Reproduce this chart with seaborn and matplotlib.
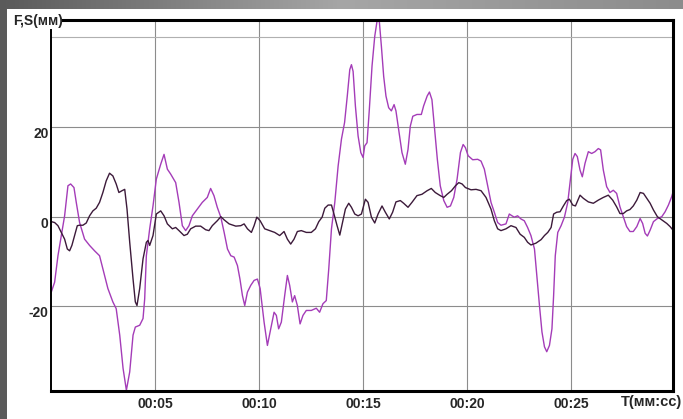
import numpy as np
import matplotlib
matplotlib.use("Agg")
import matplotlib.pyplot as plt
import seaborn as sns
from matplotlib.colors import LinearSegmentedColormap
from matplotlib.patches import Rectangle

# ---- data (time in s, value in mm) ----
f_time = [0, 0.16, 0.32, 0.48, 0.64, 0.8, 0.93, 1.09, 1.2, 1.36, 1.6, 1.84, 2.08, 2.32, 2.48,
          2.72, 2.96, 3.12, 3.29, 3.45, 3.61, 3.77, 3.93, 4.04, 4.25, 4.41, 4.49, 4.57, 4.73, 4.89,
          5.05, 5.26, 5.42, 5.58, 5.74, 5.98, 6.14, 6.30, 6.46, 6.62, 6.78, 7.02, 7.26, 7.5, 7.66,
          7.82, 7.98, 8.15, 8.31, 8.47, 8.63, 8.79, 8.95, 9.07, 9.19, 9.3, 9.43, 9.59, 9.75, 9.91,
          10.04, 10.23, 10.39, 10.55, 10.71, 10.82, 10.93, 11.06, 11.22, 11.35, 11.46, 11.59, 11.7,
          11.83, 11.96, 12.1, 12.26, 12.5, 12.74, 12.9, 13.06, 13.22, 13.34, 13.47, 13.63, 13.79,
          13.95, 14.1, 14.23, 14.35, 14.43, 14.51, 14.62, 14.75, 14.88,
          14.99, 15.07, 15.18, 15.29, 15.42, 15.55, 15.66, 15.77, 15.87, 15.98, 16.09, 16.22, 16.35,
          16.48, 16.57, 16.7, 16.86, 17.02, 17.15, 17.26, 17.38, 17.58, 17.79, 17.9, 18.07, 18.18,
          18.3, 18.43, 18.56, 18.7, 18.87, 19.03, 19.19, 19.35, 19.51, 19.67, 19.8, 19.91,
          20.04, 20.26, 20.5, 20.66, 20.82, 20.98, 21.14, 21.3, 21.46, 21.62, 21.86, 22.02, 22.15,
          22.26, 22.42, 22.58, 22.74, 22.9, 23.06, 23.23, 23.34, 23.47, 23.59, 23.71, 23.82, 23.95,
          24.07, 24.15, 24.23, 24.35, 24.51, 24.67, 24.83,
          24.94, 25.07, 25.18, 25.29, 25.42, 25.53, 25.66, 25.82, 25.98, 26.14, 26.3, 26.41, 26.54,
          26.7, 26.86, 27.02, 27.18, 27.34, 27.5, 27.66, 27.82, 27.98, 28.15, 28.31, 28.43, 28.55,
          28.66, 28.79, 28.95, 29.14, 29.35, 29.51, 29.67, 29.83, 29.94]
f_mm = [-16.8, -14.6, -8.7, -4.2, 0.2, 6.9, 7.3, 6.5, 3.2, -1.3, -5, -6.4, -7.6, -8.7, -11.6,
        -16, -19, -20.5, -26.4, -33.8, -38.7, -34.6, -26.4, -24.6, -24.2, -22.7, -18.3, -8.7, -2.7, 2.4,
        8.4, 11.7, 13.9, 10.6, 9.5, 7.6, 3.2, -2.0, -3.1, -2.0, 0.2, 1.7, 3.2, 4.3, 6.3,
        4.7, 2.1, -0.1, -3.5, -7.2, -8.7, -9, -10.9, -13.9, -17.6, -19.8, -16.8, -15.3, -14.2, -13.9,
        -16, -23.5, -28.7, -25, -21.3, -22, -25, -23.5, -17.6, -13.1, -15.3, -19, -17.6,
        -19.8, -23.9, -22, -20.9, -20.9, -20.4, -21.3, -19.4, -18.7, -11.6, -2.7, 3.2, 11.3,
        17.3, 21, 26.9, 32.8, 33.9, 32.4, 24.7, 18, 14.3,
        13.2, 15.8, 16.5, 23.9, 33.6, 40.2, 43.6, 43.6, 38, 31.3, 26.9, 24.3, 23.6,
        25, 23.6, 19.5, 14.3, 11.7, 15, 20.2, 22.4, 22.8, 22.8, 24.7, 26.9, 27.8,
        26.1, 19.5, 12.8, 6.9, 3.6, 2.1, 2.4, 4.3, 8.4, 14.3, 16.1, 15.4,
        13.6, 12.7, 12.8, 12.4, 10.6, 6.9, 3.2, 1, -1.3, -1.9, -1.6, 0.6, 0.2,
        -0.1, 0.2, -0.5, -0.9, -2.4, -4.2, -7.2, -13.1, -19.8, -25.7, -29, -30.1, -28.7,
        -25, -17.6, -8.7, -3.5, -2, -0.1, 3.2,
        7.6, 12.8, 14.1, 13.4, 10.4, 8.9, 11.9, 14.5, 14.1, 14.5, 15.2, 14.9, 10.4,
        6.7, 5.4, 5.9, 5.2, 2.2, 0, -2.2, -3.3, -3.3, -2.2, -0.4, -1.5, -3.7,
        -4.3, -3, -1.1, -0.4, 0, 1.1, 2.6, 4.5, 6.3]

s_time = [0, 0.16, 0.32, 0.48, 0.64, 0.77, 0.88, 0.99, 1.12, 1.25, 1.36, 1.52, 1.68, 1.84, 2.0,
          2.16, 2.32, 2.48, 2.64, 2.8, 2.96, 3.12, 3.25, 3.4, 3.53, 3.64, 3.77, 3.93, 4.04, 4.12,
          4.25, 4.41, 4.57, 4.65, 4.73, 4.89,
          5.05, 5.26, 5.42, 5.58, 5.82, 5.98, 6.14, 6.38, 6.54, 6.7, 6.94, 7.18, 7.42, 7.58, 7.74,
          7.98, 8.15, 8.31, 8.55, 8.87, 9.11, 9.27, 9.43, 9.62, 9.75, 9.88,
          10.04, 10.26, 10.5, 10.74, 10.98, 11.19, 11.35, 11.51, 11.67, 11.83, 12.02, 12.26, 12.5,
          12.7, 12.86, 13.02, 13.15, 13.31, 13.47, 13.59, 13.74, 13.87, 14.0, 14.14, 14.3, 14.43,
          14.59, 14.75, 14.91,
          15.1, 15.23, 15.39, 15.55, 15.71, 15.9, 16.06, 16.25, 16.41, 16.57, 16.78, 16.94, 17.15,
          17.34, 17.58, 17.82, 18.07, 18.27, 18.46, 18.7, 18.87, 19.03, 19.24, 19.43, 19.59, 19.75,
          19.91,
          20.18, 20.42, 20.66, 20.9, 21.14, 21.3, 21.46, 21.62, 21.86, 22.1, 22.34, 22.54, 22.74,
          22.9, 23.06, 23.3, 23.55, 23.71, 23.87, 24.03, 24.15, 24.3, 24.46, 24.62, 24.78, 24.91,
          25.07, 25.2, 25.42, 25.58, 25.82, 26.06, 26.3, 26.54, 26.78, 26.99, 27.18, 27.34, 27.5,
          27.66, 27.82, 27.98, 28.15, 28.31, 28.47, 28.63, 28.79, 28.95, 29.14, 29.35, 29.59, 29.75,
          29.91]
s_mm = [-1.1, -1.3, -2, -3.5, -5, -7.2, -7.6, -6.4, -4.2, -2, -1.9, -1.9, -1.4, 0.2, 1.3,
        1.9, 3.2, 5.4, 8, 9.7, 9.1, 7.3, 5.4, 5.8, 6.1, 1.7, -5.7, -13.9, -19, -19.8,
        -16, -9.4, -5.7, -5.3, -6.4, -4.2,
        0.6, 1.3, 0.2, -1.6, -2.7, -2.4, -3.1, -4.2, -3.9, -2.7, -2.1, -2.1, -2.9, -3.1, -2,
        -0.9, 0, -0.7, -1.6, -2.1, -2, -1.6, -2.7, -3.5, -2, -0.1,
        -0.9, -2.7, -3.1, -3.5, -4.2, -3.3, -5, -6.1, -5, -3.3, -3.1, -3.5, -3.5,
        -2.7, -1.1, -0.1, 1.9, 2.6, 2.6, 0.6, -2, -4.1, -1.3, 1.7, 3, 2.1,
        0.6, 0.2, 0.6,
        3.9, 3.2, -0.1, -1.4, 0.6, 2.4, 1, -0.5, 1, 3.3, 3.6, 3, 2.1,
        3.2, 4.7, 5, 5.8, 6.3, 5.4, 4.7, 4.3, 5, 5.8, 6.9, 7.6, 7.3,
        6.5,
        6, 6.1, 5.8, 4.3, 1.7, -0.9, -2.7, -3.1, -2.7, -2, -2.4, -3.9, -4.6,
        -5.7, -6.3, -5.9, -5.1, -4.2, -3.5, -2.4, 0.6, 1, 1.1, 2.4, 3.6, 3.9,
        2.6, 2.4, 4.8, 4.1, 3.3, 3, 3.7, 4.3, 4.8, 3.7, 2.2, 0.7, 0.7,
        1.3, 1.6, 2.4, 3.7, 5.4, 5.2, 4.1, 3, 1.5, 0, -0.7, -1.5, -2.2,
        -3.1]

x_ticks = [5, 10, 15, 20, 25]
x_labels = ["00:05", "00:10", "00:15", "00:20", "00:25"]
y_ticks = [-20, 0, 20, 40]
y_labels = ["-20", "0", "20", ""]

assert len(f_time) == len(f_mm) and len(s_time) == len(s_mm)

sns.set_style("white")
plt.rcParams['font.family'] = ['Liberation Sans', 'DejaVu Sans']

W, H = 683, 419
fig = plt.figure(figsize=(W / 100, H / 100), dpi=100)

# gray frame behind the white panel
bg = fig.add_axes([0, 0, 1, 1])
cmap = LinearSegmentedColormap.from_list("frame", ["#5a5a5a", "#a6a6a6", "#8c8c8c"])
bg.imshow(np.linspace(0, 1, 256)[None, :], aspect="auto", cmap=cmap, extent=[0, 1, 0, 1])
bg.add_patch(Rectangle((7 / W, 0), 1, (H - 9) / H, color="white", lw=0))
bg.set_xlim(0, 1)
bg.set_ylim(0, 1)
bg.set_axis_off()

ax = fig.add_axes([51.3 / W, 28 / H, (673 - 51.3) / W, 371 / H])
ax.set_facecolor("white")

sns.lineplot(x=f_time, y=f_mm, ax=ax, color="#a43cb8", lw=1.0, estimator=None, sort=False)
sns.lineplot(x=s_time, y=s_mm, ax=ax, color="#3c1a3a", lw=1.0, estimator=None, sort=False)

ax.set_xlim(0, 29.89)
ax.set_ylim(-38.86, 43.86)
ax.set_xticks(x_ticks)
ax.set_xticklabels(x_labels, fontweight="bold", fontsize=10)
ax.set_yticks(y_ticks)
ax.set_yticklabels(y_labels, fontweight="bold", fontsize=10)
for lab in ax.get_yticklabels():
    lab.set_va("top")
ax.tick_params(length=0)
ax.tick_params(axis="x", pad=4)
ax.tick_params(axis="y", pad=2)

ax.grid(True, color="#8c8c8c", lw=0.8)
ax.get_ygridlines()[3].set_color("#b0b0b0")
ax.set_axisbelow(True)

for side in ["top", "bottom", "right"]:
    ax.spines[side].set_color("black")
    ax.spines[side].set_linewidth(2.2)
ax.spines["left"].set_color("black")
ax.spines["left"].set_linewidth(1.4)
ax.spines["left"].set_bounds(-38.86, 41.6)
ax.spines["top"].set_bounds(0.56, 29.89)

fig.text(13 / W, 1 - 21 / H, "F,S(мм)", ha="left", va="center", fontweight="bold", fontsize=10)
fig.text(682 / W, 1 - 402 / H, "T(мм:сс)", ha="right", va="center", fontweight="bold", fontsize=10.5)

fig.savefig("out.png", dpi=100)
